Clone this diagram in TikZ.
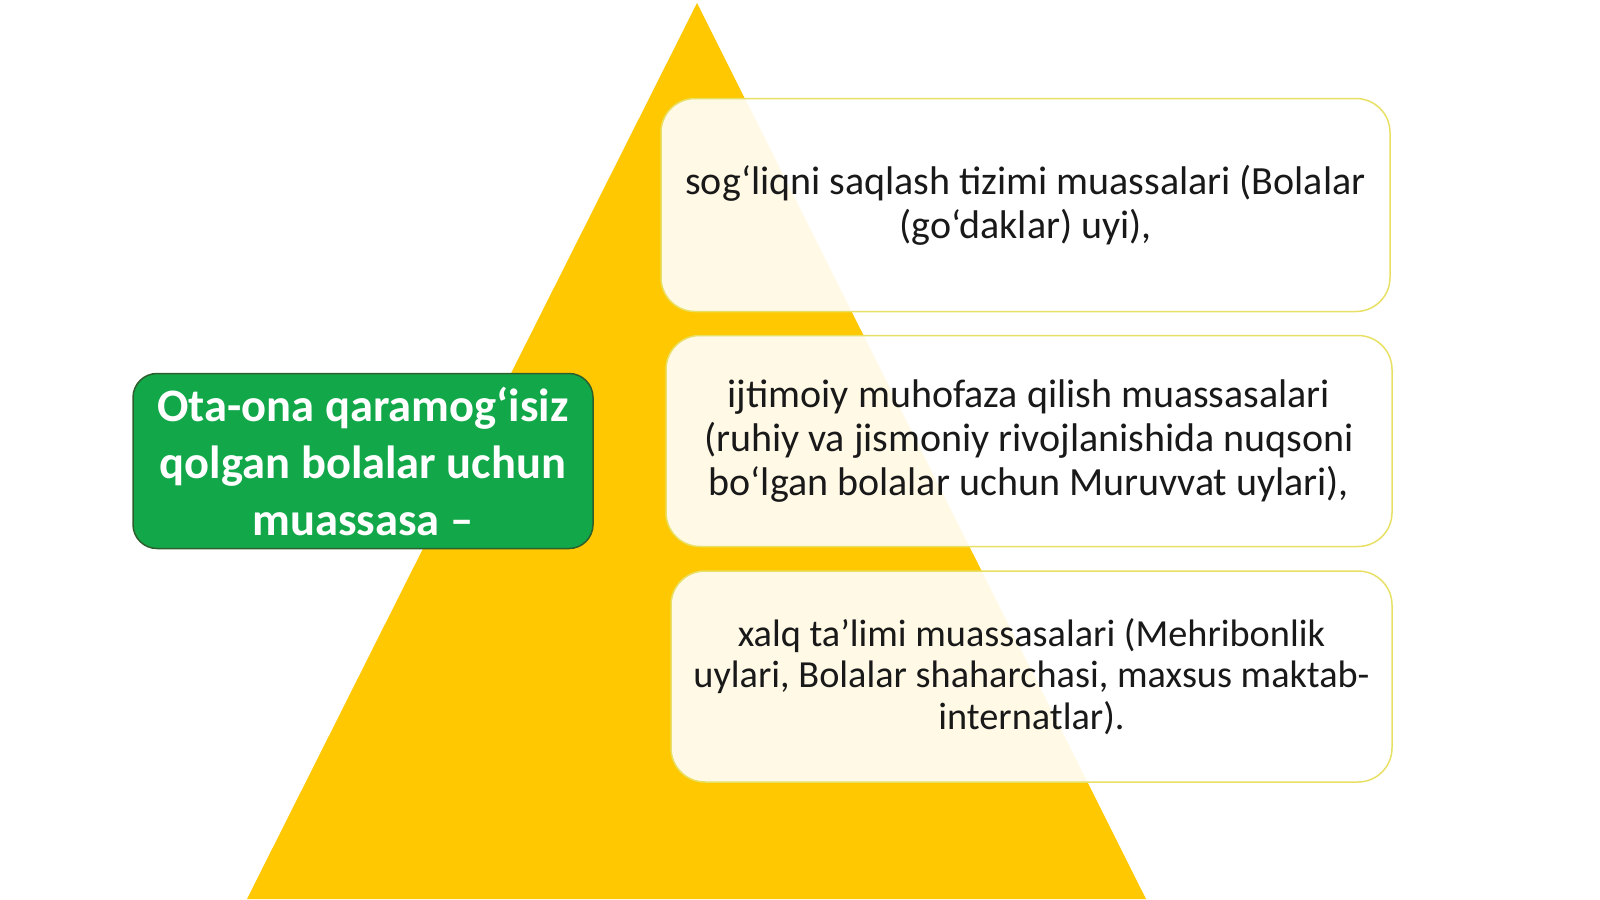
\documentclass[tikz,border=0pt]{standalone}
\usepackage{fontspec}
\setmainfont{Carlito}
\definecolor{triyellow}{RGB}{255,200,0}
\definecolor{rootgreen}{RGB}{18,168,74}
\definecolor{rootedge}{RGB}{45,95,45}
\definecolor{boxedge}{RGB}{232,224,100}
\definecolor{ink}{RGB}{25,25,25}
\begin{document}
\begin{tikzpicture}[x=1pt,y=-1pt,
  itembox/.style={draw=boxedge, line width=1.5pt, fill=white, fill opacity=0.9,
    text opacity=1, draw opacity=1, rounded corners=34pt, inner sep=0pt, align=center,
    font=\fontsize{40}{44}\selectfont, text=ink},
  rootbox/.style={draw=rootedge, line width=1.5pt, fill=rootgreen, rounded corners=24pt,
    inner sep=0pt, align=center, font=\fontsize{46.5}{57}\selectfont\bfseries, text=white}]
\useasboundingbox (0,0) rectangle (1600,899);
\fill[triyellow] (697,3) -- (1146,899) -- (247,899) -- cycle;
\node[rootbox, minimum width=460pt, minimum height=175pt] (root) at (363,461)
  {Ota-ona qaramog‘isiz\\qolgan bolalar uchun\\muassasa –};
\node[itembox, minimum width=729pt, minimum height=213pt] (b1) at (1025.5,205)
  {sog‘liqni saqlash tizimi muassalari (Bolalar\\(go‘daklar) uyi),};
\node[itembox, minimum width=726pt, minimum height=211pt] (b2) at (1029,441)
  {ijtimoiy muhofaza qilish muassasalari\\(ruhiy va jismoniy rivojlanishida nuqsoni\\bo‘lgan bolalar uchun Muruvvat uylari),};
\node[itembox, minimum width=721pt, minimum height=211pt, font=\fontsize{38.3}{41.5}\selectfont] (b3) at (1031.5,676.5)
  {xalq ta’limi muassasalari (Mehribonlik\\uylari, Bolalar shaharchasi, maxsus maktab-\\internatlar).};
\end{tikzpicture}
\end{document}
